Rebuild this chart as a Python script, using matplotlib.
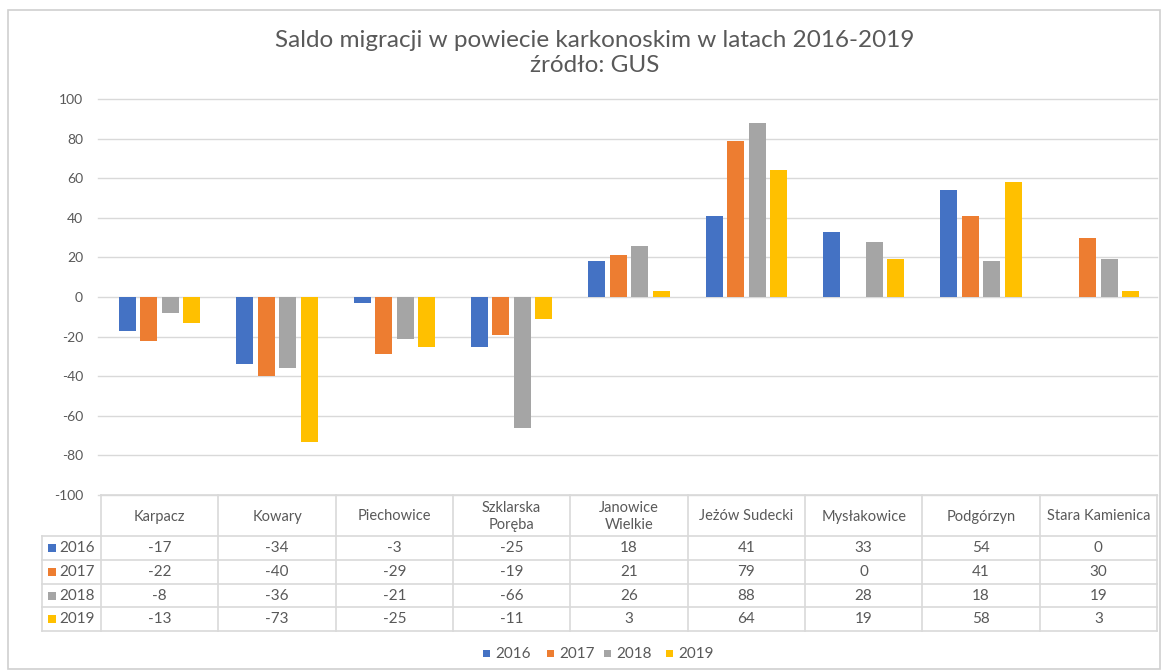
import matplotlib
matplotlib.use("Agg")
import matplotlib.pyplot as plt
from matplotlib.patches import Rectangle
from matplotlib.lines import Line2D

plt.rcParams['font.family'] = ['Lato', 'DejaVu Sans']
plt.rcParams['axes.unicode_minus'] = False

title = "Saldo migracji w powiecie karkonoskim w latach 2016-2019\nźródło: GUS"
categories = ["Karpacz", "Kowary", "Piechowice", "Szklarska\nPoręba", "Janowice\nWielkie",
              "Jeżów Sudecki", "Mysłakowice", "Podgórzyn", "Stara Kamienica"]
years = ["2016", "2017", "2018", "2019"]
v2016 = [-17, -34, -3, -25, 18, 41, 33, 54, 0]
v2017 = [-22, -40, -29, -19, 21, 79, 0, 41, 30]
v2018 = [-8, -36, -21, -66, 26, 88, 28, 18, 19]
v2019 = [-13, -73, -25, -11, 3, 64, 19, 58, 3]
series = [v2016, v2017, v2018, v2019]
colors = ["#4472C4", "#ED7D31", "#A5A5A5", "#FFC000"]
yticks = [-100, -80, -60, -40, -20, 0, 20, 40, 60, 80, 100]

W, H = 1164, 670
fig = plt.figure(figsize=(W / 100, H / 100), dpi=100)
fig.patch.set_facecolor("white")

def fx(px):
    return px / W

def fy(py):
    return 1 - py / H

TXT = "#595959"
GRID = "#D9D9D9"

# outer chart frame
fig.add_artist(Rectangle((fx(8), fy(669)), fx(1160) - fx(8), fy(10) - fy(669),
                         transform=fig.transFigure, fill=False, edgecolor="#D0D0D0", lw=1.2))

left_px, right_px, top_px, bot_px = 101, 1157, 99, 495
ax = fig.add_axes([fx(left_px), fy(bot_px), fx(right_px) - fx(left_px), fy(top_px) - fy(bot_px)])
n = len(categories)
ax.set_xlim(-0.5, n - 0.5)
ax.set_ylim(-100, 100)
for s in ax.spines.values():
    s.set_visible(False)
ax.set_xticks([])
ax.set_yticks(yticks)
ax.tick_params(axis="y", length=0, pad=13, labelsize=10, labelcolor=TXT)
for t in yticks:
    ax.axhline(t, color=GRID, lw=1, zorder=0, xmin=-3 / (right_px - left_px), clip_on=False)

spacing = 0.182
width = 0.145
for k, vals in enumerate(series):
    xs = [i + (k - 1.5) * spacing for i in range(n)]
    ax.bar(xs, vals, width=width, color=colors[k], lw=0, zorder=3)

# title
fig.text(fx(595), fy(53), title, ha="center", va="center", fontsize=17.5, color=TXT, linespacing=1.2)

# data table
hdr_top, hdr_bot = 495, 536
row_edges = [536, 560, 584, 607, 631]
label_left = 42
col_w = (right_px - left_px) / n
lkw = dict(transform=fig.transFigure, color=GRID, lw=1.2)
fig.add_artist(Line2D([fx(left_px), fx(right_px)], [fy(hdr_top)] * 2, **lkw))
for yy in row_edges:
    fig.add_artist(Line2D([fx(label_left), fx(right_px)], [fy(yy)] * 2, **lkw))
for j in range(n + 1):
    xx = left_px + j * col_w
    fig.add_artist(Line2D([fx(xx)] * 2, [fy(hdr_top), fy(row_edges[-1])], **lkw))
fig.add_artist(Line2D([fx(label_left)] * 2, [fy(row_edges[0]), fy(row_edges[-1])], **lkw))

for j, c in enumerate(categories):
    cx = left_px + (j + 0.5) * col_w
    fig.text(fx(cx), fy((hdr_top + hdr_bot) / 2 + 1), c, ha="center", va="center",
             fontsize=10.5, color=TXT, linespacing=1.3)

for k, vals in enumerate(series):
    cy = (row_edges[k] + row_edges[k + 1]) / 2
    fig.add_artist(Rectangle((fx(48), fy(cy + 4)), fx(8), fy(cy - 4) - fy(cy + 4),
                             transform=fig.transFigure, facecolor=colors[k], lw=0))
    fig.text(fx(59), fy(cy), years[k], ha="left", va="center", fontsize=11, color=TXT)
    for j, v in enumerate(vals):
        cx = left_px + (j + 0.5) * col_w
        fig.text(fx(cx), fy(cy), f"{v}", ha="center", va="center", fontsize=11, color=TXT)

# legend
leg_x = [483, 547, 604, 666]
for k in range(4):
    fig.add_artist(Rectangle((fx(leg_x[k]), fy(657)), fx(7), fy(650) - fy(657),
                             transform=fig.transFigure, facecolor=colors[k], lw=0))
    fig.text(fx(leg_x[k] + 12), fy(653.5), years[k], ha="left", va="center", fontsize=11, color=TXT)

fig.savefig("out.png", dpi=100, facecolor="white")
